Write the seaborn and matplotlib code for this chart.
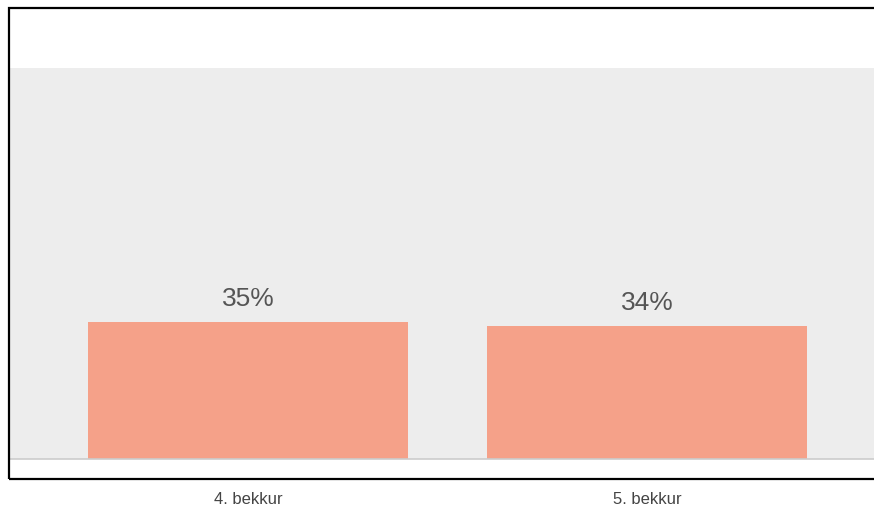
import pandas as pd
import seaborn as sns
import matplotlib.pyplot as plt
from matplotlib.patches import Rectangle

categories = ['4. bekkur', '5. bekkur']
values = [35, 34]
value_labels = ['35%', '34%']

df = pd.DataFrame({'bekkur': categories, 'hlutfall': values})

sns.set_style('white')
plt.rcParams['font.family'] = ['Liberation Sans', 'DejaVu Sans']

fig = plt.figure(figsize=(8.74, 5.08), dpi=100)
ax = fig.add_axes([10 / 874, 49 / 508, 864 / 874, 391 / 508])
ax.set_facecolor('#ededed')

sns.barplot(data=df, x='bekkur', y='hlutfall', color='#f5a189', saturation=1,
            width=0.8, linewidth=0, ax=ax)
ax.bar_label(ax.containers[0], labels=value_labels, padding=8,
             fontsize=19, color='#555555')

ax.set_ylim(0, 100)
ax.set_xlim(-0.5965, 1.569)
ax.set_xlabel('')
ax.set_ylabel('')
ax.set_yticks([])
for side in ['top', 'right', 'left']:
    ax.spines[side].set_visible(False)
ax.spines['bottom'].set_color('#cccccc')
ax.spines['bottom'].set_linewidth(1.2)
ax.tick_params(axis='x', length=0, pad=24, labelsize=12, labelcolor='#444444')

# black frame around the chart area
frame = Rectangle((9 / 874, 29 / 508), 1.0, 471 / 508, transform=fig.transFigure,
                  fill=False, edgecolor='black', linewidth=1.6, clip_on=False)
fig.add_artist(frame)

plt.savefig('out.png', dpi=100)
